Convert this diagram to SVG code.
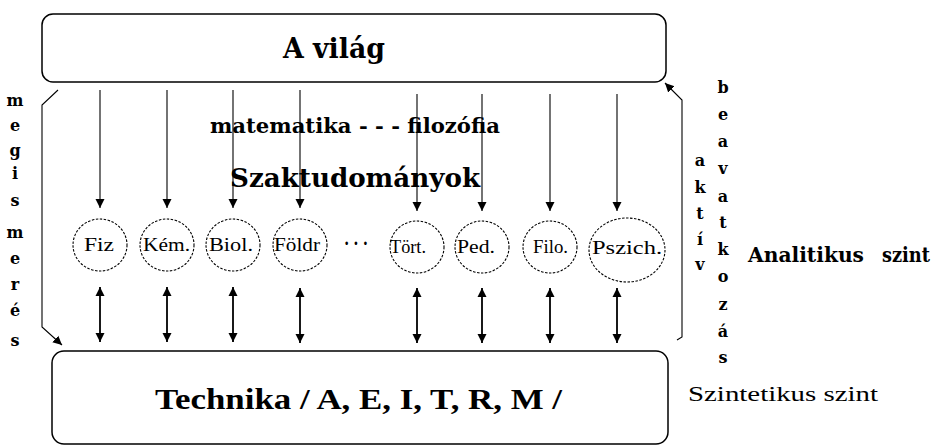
<svg xmlns="http://www.w3.org/2000/svg" width="940" height="445" viewBox="0 0 940 445">
<defs>
<style>
.box{fill:#fff;stroke:#000;stroke-width:1.5}
.circ{fill:none;stroke:#000;stroke-width:1.1;stroke-dasharray:2.5 1.5}
.b{font-family:"DejaVu Serif","Liberation Serif",serif;font-weight:bold;fill:#000}
.t{font-family:"Liberation Serif","Times New Roman",serif;fill:#000}
.lbl{font-family:"Liberation Serif","Times New Roman",serif;font-size:18px;fill:#000}
.v{font-family:"DejaVu Serif","Liberation Serif",serif;font-weight:bold;font-size:16px;text-anchor:middle;fill:#000}
.ln{stroke:#000;stroke-width:1.1;fill:none}
.dl{stroke:#000;stroke-width:1.8;fill:none}
</style>
<marker id="ah" viewBox="0 0 10 10" refX="10" refY="5" markerUnits="userSpaceOnUse" markerWidth="9" markerHeight="11" orient="auto-start-reverse">
<path d="M0,0 L10,5 L0,10 z" fill="#000"/>
</marker>
<marker id="ah2" viewBox="0 0 10 10" refX="10" refY="5" markerUnits="userSpaceOnUse" markerWidth="9" markerHeight="13" orient="auto-start-reverse">
<path d="M0,0 L10,5 L0,10 z" fill="#000"/>
</marker>
</defs>
<rect width="940" height="445" fill="#fff"/>

<g id="vilag">
<rect class="box" x="42" y="14" width="624" height="68" rx="11"/>
<text class="b" x="283" y="58" font-size="28" textLength="102" lengthAdjust="spacingAndGlyphs">A világ</text>
</g>

<g id="technika">
<rect class="box" x="52" y="351" width="616" height="93" rx="12"/>
<text class="t" x="155" y="409" font-size="29" font-weight="bold" textLength="407" lengthAdjust="spacingAndGlyphs">Technika / A, E, I, T, R, M /</text>
</g>

<g id="labels">
<text class="b" x="210" y="133" font-size="20" textLength="290" lengthAdjust="spacingAndGlyphs">matematika - - - filozófia</text>
<text class="b" x="230" y="187" font-size="26" textLength="250" lengthAdjust="spacingAndGlyphs">Szaktudományok</text>
<text class="b" x="748" y="262" font-size="21" textLength="116" lengthAdjust="spacingAndGlyphs">Analitikus</text>
<text class="b" x="882" y="262" font-size="21" textLength="48" lengthAdjust="spacingAndGlyphs">szint</text>
<text class="t" x="688" y="401" font-size="21" textLength="190" lengthAdjust="spacingAndGlyphs">Szintetikus szint</text>
<text class="t" x="344" y="250" font-size="20" font-weight="bold" textLength="24" lengthAdjust="spacingAndGlyphs">· · ·</text>
</g>

<g id="megismeres">
<text class="v" x="15" y="106">m</text>
<text class="v" x="15" y="131">e</text>
<text class="v" x="15" y="156">g</text>
<text class="v" x="15" y="179">i</text>
<text class="v" x="15" y="206">s</text>
<text class="v" x="15" y="238">m</text>
<text class="v" x="15" y="264">e</text>
<text class="v" x="15" y="290">r</text>
<text class="v" x="15" y="316">é</text>
<text class="v" x="15" y="346">s</text>
</g>

<g id="aktiv">
<text class="v" x="700" y="166">a</text>
<text class="v" x="700" y="193">k</text>
<text class="v" x="700" y="219">t</text>
<text class="v" x="700" y="245">í</text>
<text class="v" x="700" y="270">v</text>
</g>

<g id="beavatkozas">
<text class="v" x="723" y="93">b</text>
<text class="v" x="723" y="120">e</text>
<text class="v" x="723" y="147">a</text>
<text class="v" x="723" y="174">v</text>
<text class="v" x="723" y="202">a</text>
<text class="v" x="723" y="228">t</text>
<text class="v" x="723" y="255">k</text>
<text class="v" x="723" y="282">o</text>
<text class="v" x="723" y="310">z</text>
<text class="v" x="723" y="337">á</text>
<text class="v" x="723" y="363">s</text>
</g>

<g id="fiz"><ellipse class="circ" cx="100" cy="245" rx="27" ry="26"/><text class="lbl" x="84" y="251" textLength="30" lengthAdjust="spacingAndGlyphs">Fiz</text></g>
<g id="kem"><ellipse class="circ" cx="167" cy="245" rx="27" ry="26"/><text class="lbl" x="143" y="251" textLength="47" lengthAdjust="spacingAndGlyphs">Kém.</text></g>
<g id="biol"><ellipse class="circ" cx="233" cy="245" rx="27" ry="26"/><text class="lbl" x="209" y="251" textLength="44" lengthAdjust="spacingAndGlyphs">Biol.</text></g>
<g id="foldr"><ellipse class="circ" cx="300" cy="245" rx="27" ry="26"/><text class="lbl" x="274" y="251" textLength="46" lengthAdjust="spacingAndGlyphs">Földr</text></g>
<g id="tort"><ellipse class="circ" cx="417" cy="247" rx="27" ry="26"/><text class="lbl" x="390" y="253" textLength="36" lengthAdjust="spacingAndGlyphs">Tört.</text></g>
<g id="ped"><ellipse class="circ" cx="482" cy="247" rx="27" ry="26"/><text class="lbl" x="457" y="253" textLength="38" lengthAdjust="spacingAndGlyphs">Ped.</text></g>
<g id="filo"><ellipse class="circ" cx="550" cy="247" rx="27" ry="26"/><text class="lbl" x="533" y="253" textLength="35" lengthAdjust="spacingAndGlyphs">Filo.</text></g>
<g id="pszich"><ellipse class="circ" cx="627" cy="250" rx="38" ry="32"/><text class="lbl" x="592" y="254" textLength="70" lengthAdjust="spacingAndGlyphs">Pszich.</text></g>

<g id="connectors">
<line class="ln" x1="100" y1="90" x2="100" y2="208" marker-end="url(#ah)"/>
<line class="ln" x1="167" y1="90" x2="167" y2="208" marker-end="url(#ah)"/>
<line class="ln" x1="233" y1="90" x2="233" y2="208" marker-end="url(#ah)"/>
<line class="ln" x1="300" y1="90" x2="300" y2="208" marker-end="url(#ah)"/>
<line class="ln" x1="417" y1="94" x2="417" y2="211" marker-end="url(#ah)"/>
<line class="ln" x1="482" y1="94" x2="482" y2="211" marker-end="url(#ah)"/>
<line class="ln" x1="550" y1="94" x2="550" y2="211" marker-end="url(#ah)"/>
<line class="ln" x1="617" y1="94" x2="617" y2="211" marker-end="url(#ah)"/>

<line class="dl" x1="100" y1="287" x2="100" y2="342" marker-start="url(#ah2)" marker-end="url(#ah2)"/>
<line class="dl" x1="167" y1="287" x2="167" y2="342" marker-start="url(#ah2)" marker-end="url(#ah2)"/>
<line class="dl" x1="233" y1="287" x2="233" y2="342" marker-start="url(#ah2)" marker-end="url(#ah2)"/>
<line class="dl" x1="300" y1="288" x2="300" y2="343" marker-start="url(#ah2)" marker-end="url(#ah2)"/>
<line class="dl" x1="417" y1="288" x2="417" y2="343" marker-start="url(#ah2)" marker-end="url(#ah2)"/>
<line class="dl" x1="482" y1="288" x2="482" y2="343" marker-start="url(#ah2)" marker-end="url(#ah2)"/>
<line class="dl" x1="550" y1="288" x2="550" y2="343" marker-start="url(#ah2)" marker-end="url(#ah2)"/>
<line class="dl" x1="617" y1="288" x2="617" y2="343" marker-start="url(#ah2)" marker-end="url(#ah2)"/>

<path class="ln" d="M58,90 L42,105 L42,327 L62,345" marker-end="url(#ah)"/>
<path class="ln" d="M677,340 L682,337 L682,100 L665,83" marker-end="url(#ah)"/>
</g>
</svg>
